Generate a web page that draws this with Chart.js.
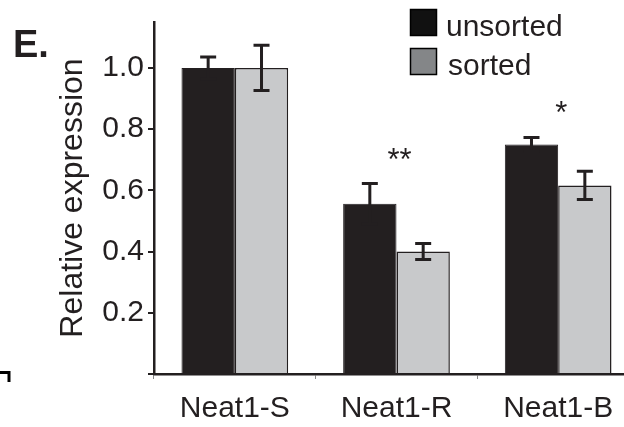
<!DOCTYPE html>
<html>
<head>
<meta charset="utf-8">
<script src="https://cdn.jsdelivr.net/npm/chart.js@4/dist/chart.umd.min.js"></script>
<style>
  html, body { margin: 0; padding: 0; background: #fff; overflow: hidden; }
  #wrap { width: 624px; height: 427px; overflow: hidden; position: relative; }
  canvas { display: block; }
</style>
</head>
<body>
<div id="wrap"><canvas id="expr" width="680" height="427"></canvas></div>
<script>
const categories = ['Neat1-S', 'Neat1-R', 'Neat1-B'];
const unsorted = [1.0, 0.556, 0.75];
const unsortedErr = [0.036, 0.066, 0.023];
const sorted = [1.0, 0.40, 0.616];
const sortedErr = [0.074, 0.026, 0.046];
const stars = ['', '**', '*'];
const yTicks = [0, 0.2, 0.4, 0.6, 0.8, 1.0];

const INK = '#231f20';
const FONT = '"Liberation Sans", Arial, Helvetica, sans-serif';

// error bars + significance stars
const errorBars = {
  id: 'errorBars',
  afterDatasetsDraw(chart) {
    const ctx = chart.ctx;
    const y = chart.scales.y;
    const errs = [unsortedErr, sortedErr];
    const tops = [];
    ctx.save();
    ctx.strokeStyle = INK;
    ctx.lineWidth = 3;
    chart.data.datasets.forEach((ds, i) => {
      chart.getDatasetMeta(i).data.forEach((bar, j) => {
        const v = ds.data[j], e = errs[i][j];
        const yt = y.getPixelForValue(v + e);
        const yb = y.getPixelForValue(v - e);
        ctx.beginPath();
        ctx.moveTo(bar.x, yb); ctx.lineTo(bar.x, yt);
        ctx.moveTo(bar.x - 8, yt); ctx.lineTo(bar.x + 8, yt);
        ctx.moveTo(bar.x - 8, yb); ctx.lineTo(bar.x + 8, yb);
        ctx.stroke();
        tops[j] = Math.min(tops[j] ?? Infinity, yt);
      });
    });
    ctx.fillStyle = INK;
    ctx.font = '31px ' + FONT;
    ctx.textAlign = 'center';
    ctx.textBaseline = 'alphabetic';
    stars.forEach((s, j) => {
      if (!s) return;
      ctx.fillText(s, chart.scales.x.getPixelForValue(j) + 3, tops[j] - 14);
    });
    ctx.restore();
  }
};

// panel letter, legend and the corner mark at lower left
const decor = {
  id: 'decor',
  afterDraw(chart) {
    const ctx = chart.ctx;
    ctx.save();
    ctx.fillStyle = INK;
    ctx.font = 'bold 38px ' + FONT;
    ctx.textBaseline = 'alphabetic';
    ctx.fillText('E.', 13, 57);

    ctx.font = '30px ' + FONT;
    chart.data.datasets.forEach((ds, i) => {
      const top = 9 + i * 39;
      ctx.fillStyle = ds.legendColor;
      ctx.fillRect(410, top, 27, 27);
      ctx.strokeStyle = '#000';
      ctx.lineWidth = 1.5;
      ctx.strokeRect(410.5, top + 0.5, 26, 26);
      ctx.fillStyle = INK;
      ctx.fillText(ds.label, 446 + i * 2, top + 27);
    });

    ctx.strokeStyle = '#000';
    ctx.lineWidth = 3;
    ctx.beginPath();
    ctx.moveTo(0, 372.5); ctx.lineTo(9, 372.5); ctx.lineTo(9, 382);
    ctx.stroke();
    ctx.restore();
  }
};

new Chart(document.getElementById('expr'), {
  type: 'bar',
  data: {
    labels: categories,
    datasets: [
      {
        label: 'unsorted',
        data: unsorted,
        backgroundColor: INK,
        borderColor: INK,
        borderWidth: 1,
        legendColor: '#111'
      },
      {
        label: 'sorted',
        data: sorted,
        backgroundColor: '#c8c9cb',
        borderColor: INK,
        borderWidth: 1.5,
        legendColor: '#848688'
      }
    ]
  },
  options: {
    responsive: false,
    animation: false,
    categoryPercentage: 0.66,
    barPercentage: 1.0,
    layout: { padding: { top: 22, right: 41, left: 0, bottom: 0 } },
    plugins: {
      legend: { display: false },
      tooltip: { enabled: false }
    },
    scales: {
      x: {
        afterFit(scale) { scale.height = 53; },
        border: { display: true, color: INK, width: 2.5 },
        grid: {
          offset: true,
          drawOnChartArea: false,
          color: '#888',
          lineWidth: 1,
          tickLength: 5
        },
        ticks: {
          color: INK,
          padding: 12,
          font: { family: FONT, size: 30 }
        }
      },
      y: {
        min: 0,
        max: 1.15,
        afterFit(scale) { scale.width = 154; },
        afterBuildTicks(scale) { scale.ticks = yTicks.map(v => ({ value: v })); },
        border: { display: true, color: INK, width: 2.5 },
        grid: {
          drawOnChartArea: false,
          color: INK,
          lineWidth: 2,
          tickLength: 6
        },
        ticks: {
          color: INK,
          padding: 4,
          font: { family: FONT, size: 30 },
          callback: v => (v === 0 ? '' : v.toFixed(1))
        },
        title: {
          display: true,
          text: 'Relative expression',
          color: INK,
          font: { family: FONT, size: 32 },
          padding: { top: 54, bottom: 0 }
        }
      }
    }
  },
  plugins: [errorBars, decor]
});
</script>
</body>
</html>
